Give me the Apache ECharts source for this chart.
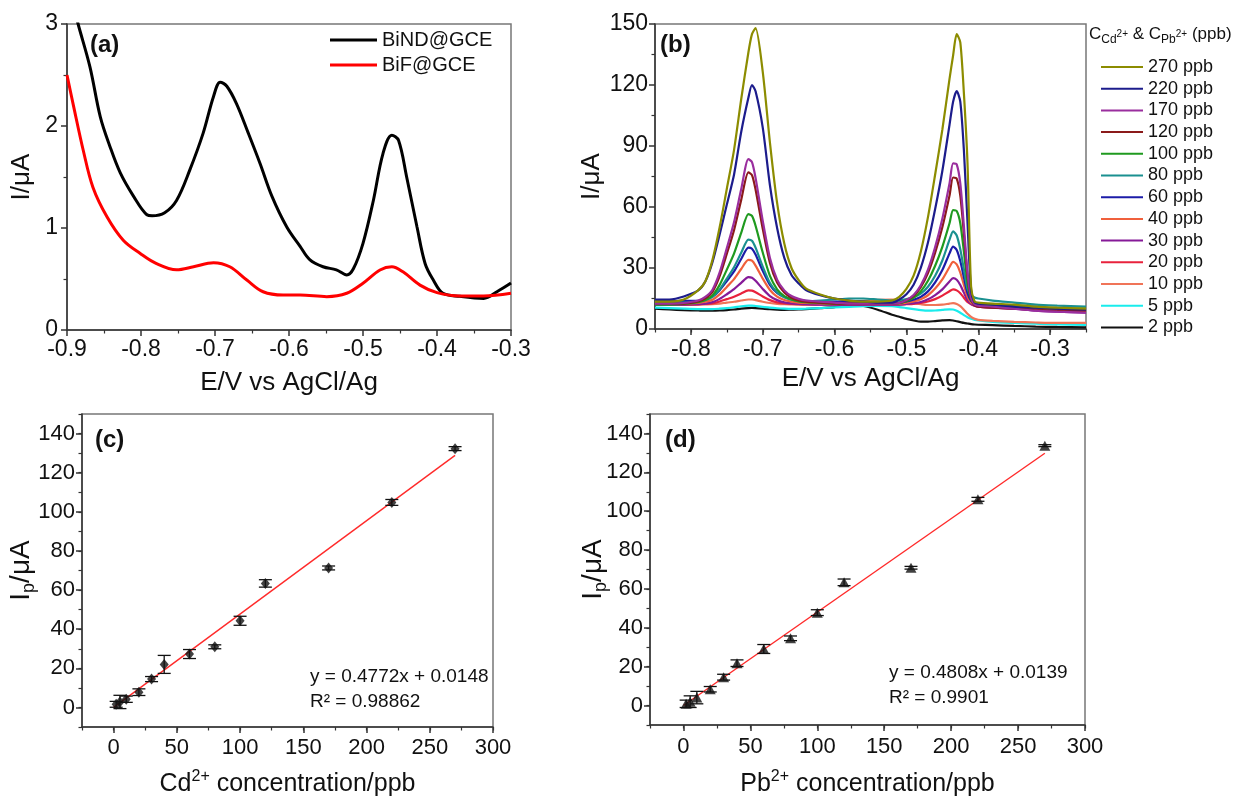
<!DOCTYPE html>
<html><head><meta charset="utf-8">
<script src="https://cdn.jsdelivr.net/npm/echarts@6/dist/echarts.min.js"></script>
<style>html,body{margin:0;padding:0;background:#fff}#chart{width:1249px;height:799px}</style>
</head><body><div id="chart"></div>
<script>
const FONT = 'Liberation Sans, Arial, Helvetica, sans-serif';

// ---------- Panel (a) ----------
const aE_BiND = [-0.892,-0.885,-0.869,-0.855,-0.842,-0.828,-0.810,-0.792,-0.785,-0.768,-0.752,-0.734,-0.716,-0.702,-0.693,-0.684,-0.671,-0.655,-0.639,-0.623,-0.603,-0.585,-0.572,-0.554,-0.536,-0.522,-0.513,-0.500,-0.486,-0.473,-0.461,-0.452,-0.441,-0.427,-0.416,-0.405,-0.392,-0.369,-0.337,-0.319,-0.300];
const aI_BiND = [3.2,3.0,2.58,2.09,1.80,1.54,1.31,1.13,1.12,1.15,1.27,1.57,1.93,2.29,2.43,2.39,2.22,1.93,1.63,1.31,1.01,0.82,0.69,0.62,0.59,0.54,0.60,0.85,1.27,1.73,1.91,1.86,1.50,1.01,0.65,0.49,0.36,0.33,0.31,0.375,0.46];
const aE_BiF = [-0.900,-0.891,-0.878,-0.865,-0.846,-0.824,-0.801,-0.779,-0.752,-0.729,-0.702,-0.680,-0.657,-0.635,-0.608,-0.585,-0.549,-0.522,-0.500,-0.477,-0.461,-0.446,-0.423,-0.400,-0.369,-0.337,-0.300];
const aI_BiF = [2.50,2.19,1.76,1.40,1.11,0.88,0.75,0.65,0.59,0.62,0.66,0.62,0.49,0.375,0.343,0.343,0.327,0.36,0.458,0.588,0.62,0.57,0.44,0.366,0.333,0.333,0.36];

// ---------- Panel (b) ----------
const bE = [-0.85,-0.83,-0.81,-0.79,-0.78,-0.77,-0.76,-0.75,-0.74,-0.73,-0.72,-0.715,-0.71,-0.70,-0.69,-0.68,-0.67,-0.66,-0.65,-0.64,-0.62,-0.60,-0.58,-0.56,-0.54,-0.52,-0.51,-0.50,-0.49,-0.48,-0.47,-0.46,-0.45,-0.44,-0.435,-0.43,-0.425,-0.42,-0.415,-0.41,-0.405,-0.40,-0.38,-0.35,-0.32,-0.29,-0.25];
const b270 = [13.5,13.5,14.5,19,23.4,34,50,69,88,113,136,145,148,126.5,91.7,62,42,30,24,20,17,15,14,13.5,13.5,14,15.8,19.7,26.2,38,55,76,98,123,134.5,145,141,116,82,21,13.5,13,12.5,12,11,10.5,10];
const b220 = [14.5,14.5,16,19,23.4,32.9,46.5,61.2,75.9,96.9,113.7,120,116.9,99,70.7,49.7,35,26.6,22.4,19.2,16.6,15,14,13.5,13,13,14.5,17.1,21.8,30.1,42.5,59,77.7,100.4,111.8,117,111.8,88,52.8,18.7,13,12.5,12,11,10.5,10,9.5];
const b170 = [12.5,12.5,12.8,14,15.8,19.3,27.8,39.8,52.5,68.7,83.5,82.1,74.3,53.2,34.9,24.3,19,16.2,14.8,14,13.4,13,12.5,12.5,12.5,12.5,12.8,14.2,16.7,21.5,29.2,40.3,54.2,71.6,81.5,81,71.6,50.7,27.8,15.3,12,11.5,11,10,9,8.5,8];
const b120 = [12.5,12.5,12.5,13.5,15.1,18.3,26,37,48.6,63.5,77,75.7,68.6,49.3,32.5,22.8,18,15.4,14.1,13.5,13,12.5,12.5,12.5,12.5,12.5,12.8,14.1,16.3,20.6,27.5,37.5,50,65.6,74.5,74,65.6,46.9,26.3,15,11.5,11,10.5,10,9.5,9,9];
const b100 = [12,12,12.3,13.2,14.3,16.5,21.7,29.2,37.1,47.3,56.5,55.6,50.8,37.6,26.1,19.5,16.2,14.5,13.6,13.2,12.8,12.5,12.5,12.5,12.5,12.5,12.7,13.7,15.3,18.5,23.7,31.1,40.4,52,58.5,58,52,38.1,22.7,14.4,12,12,11.5,11,10.5,10,10];
const b80 = [13,13,13,13.5,14.2,15.8,19.5,24.8,30.4,37.5,44,43.4,40,30.7,22.6,18,15.6,14.4,13.8,13.5,14,14.5,15,15,14.5,14,14,14.7,15.7,17.4,20.8,26.2,33.7,43.9,48,46,39.2,29.3,19.8,16.5,15.5,15,14,13,12,11.5,11];
const b60 = [14,14,13.8,13.9,14.6,15.9,19.1,23.6,28.3,34.4,40,39.5,36.6,28.6,21.7,17.7,15.8,14.7,14.2,13.9,13.6,13.5,13.5,13.5,13,13,13,13.6,14.4,15.8,18.5,22.9,29,37.2,40.5,38.9,33.4,25.4,17.7,13.8,13,12.5,12,11.5,11,10,9.5];
const b40 = [12.5,12.5,12.5,12.8,13.4,14.4,17,20.7,24.5,29.5,34,33.6,31.2,24.8,19.2,15.9,14.3,13.5,13,12.8,12.6,12.5,12.5,12.5,12.5,12.5,12.5,12.9,13.5,14.6,16.6,19.9,24.4,30.5,33,31.8,27.7,21.7,16,13,12,11.5,11,10.5,10,9.5,9];
const b30 = [12,12,12,12.2,12.5,13.2,14.8,17.1,19.6,22.7,25.5,25.2,23.7,19.7,16.2,14.2,13.1,12.6,12.3,12.2,12,12,12,12,12,12,12,12.3,12.7,13.3,14.6,16.7,19.5,23.4,25,24.2,21.6,17.9,14.2,12.4,11.5,11,10.5,10,9,8.5,8];
const b20 = [12,12,12,12.1,12.3,12.6,13.5,14.7,15.9,17.5,19,18.9,18.1,16,14.2,13.1,12.6,12.3,12.2,12.1,12,12,12,12,12,12,12,12.2,12.4,12.8,13.5,14.7,16.4,18.6,19.5,19,17.6,15.4,13.3,12.2,11.5,11,10.5,10,9.5,9,9];
const b10 = [12,12,12,12,12.1,12.2,12.5,13,13.4,14,14.5,14.5,14.2,13.4,12.8,12.4,12.2,12.1,12,12,12.3,12.8,13.3,13.8,14.3,14.5,14.2,13.6,12.8,12.2,11.8,11.8,12,12.5,12.7,12.3,11.2,9.5,7.5,6,5,4.5,4,3.5,3.2,3,3];
const b5 = [10.5,10.3,10,9.8,9.8,9.8,10,10.3,10.7,11.2,11.5,11.5,11.3,10.9,10.5,10.2,10,9.9,9.9,10,10.3,10.6,10.9,11.2,11.3,11.2,10.8,10.3,9.8,9.3,9,9.1,9.4,9.7,9.6,9,8,6.8,5.8,5,4.5,4.2,3.5,3,2.6,2.3,2];
const b2 = [10,9.6,9.3,9.1,9,9,9.1,9.3,9.6,10,10.3,10.4,10.3,10,9.7,9.5,9.4,9.5,9.6,9.8,10.3,10.8,11.8,11.3,9.5,7,6,5,4.2,3.6,3.6,3.9,4.2,4.4,4.2,3.8,3.4,3,2.7,2.4,2.2,2.1,1.9,1.5,1.2,1,0.8];
const bNames = ['270 ppb','220 ppb','170 ppb','120 ppb','100 ppb','80 ppb','60 ppb','40 ppb','30 ppb','20 ppb','10 ppb','5 ppb','2 ppb'];
const bValues = [b270,b220,b170,b120,b100,b80,b60,b40,b30,b20,b10,b5,b2];
const bColors = ['#8c8c00','#1c1c8c','#9a2e9e','#8b1a1a','#1f9a1f','#1a9090','#1c1ca8','#f0603c','#861a98','#e8223c','#f07458','#19ecec','#111111'];
const bXTicks = [-0.8,-0.7,-0.6,-0.5,-0.4,-0.3];

// ---------- Panels (c), (d) ----------
const conc = [2,5,10,20,30,40,60,80,100,120,170,220,270];
const cdIp = [1.6,2.8,4.2,7.8,14.5,22,27.3,31,44.3,63.4,71.3,104.8,132.3];
const cdErr = [1.5,3.4,1.6,1.7,1.3,4.6,2.3,1,2.3,1.9,1,1.5,1];
const pbIp = [0.9,2,4.1,8.4,14.6,21.8,29.1,34.6,47.8,63.4,70.9,106.1,133.7];
const pbErr = [1.9,3,3.2,1.4,1.5,1.7,2.3,1.2,1.5,1.7,0.7,1,0.5];
const cdFit = [[0,0.0148],[270,128.86]];
const pbFit = [[0,0.0139],[270,129.83]];
const concTicks = [0,50,100,150,200,250,300];
const ipTicks = [0,20,40,60,80,100,120,140];

// ---------- helpers ----------
const AX = '#333';
function isObj(o){return o && typeof o==='object' && !Array.isArray(o);}
function merge(a,b){const r=Object.assign({},a);for(const k in b){r[k]=(isObj(a[k])&&isObj(b[k]))?merge(a[k],b[k]):b[k];}return r;}
const baseAxis = {
  type:'value',
  axisLine:{show:true,onZero:false,lineStyle:{color:AX,width:1.5}},
  axisTick:{show:true,inside:false,length:6,lineStyle:{color:AX,width:1.5}},
  splitLine:{show:false},
  axisLabel:{fontSize:23,color:'#111',fontFamily:FONT,showMinLabel:true,showMaxLabel:true},
  nameLocation:'middle',
  nameMoveOverlap:false,
  nameTextStyle:{fontSize:26,color:'#111',fontFamily:FONT}
};
function ax(o){return merge(baseAxis,o);}
function minorAx(grid,min,max,interval,pos){
  return {type:'value',gridIndex:grid,min:min,max:max,interval:interval,position:pos,offset:0,
    axisLine:{show:false,onZero:false},axisTick:{show:true,inside:false,length:3.5,lineStyle:{color:AX,width:1.2}},
    axisLabel:{show:false},splitLine:{show:false}};
}
function zip(xs,ys){return xs.map((x,i)=>[x,ys[i]]);}
function errItem(params, api){
  const x=api.value(0), y=api.value(1), e=api.value(2);
  const p1=api.coord([x,y+e]), p2=api.coord([x,y-e]);
  const hw=6.5, st={stroke:'#111',lineWidth:1.3};
  return {type:'group',children:[
    {type:'line',shape:{x1:p1[0],y1:p1[1],x2:p2[0],y2:p2[1]},style:st},
    {type:'line',shape:{x1:p1[0]-hw,y1:p1[1],x2:p1[0]+hw,y2:p1[1]},style:st},
    {type:'line',shape:{x1:p2[0]-hw,y1:p2[1],x2:p2[0]+hw,y2:p2[1]},style:st}]};
}
const gridBase = {show:true,borderColor:'#777',borderWidth:1.5,backgroundColor:'transparent',containLabel:false,outerBoundsMode:'none'};

const fmt1 = v => (Math.round(v*10)/10).toFixed(1);

const series = [];
// (a)
series.push({name:'BiND@GCE',type:'line',xAxisIndex:0,yAxisIndex:0,data:zip(aE_BiND,aI_BiND),smooth:0.35,symbol:'none',lineStyle:{color:'#000',width:3},itemStyle:{color:'#000'}});
series.push({name:'BiF@GCE',type:'line',xAxisIndex:0,yAxisIndex:0,data:zip(aE_BiF,aI_BiF),smooth:0.35,symbol:'none',lineStyle:{color:'#ff0000',width:3},itemStyle:{color:'#ff0000'}});
// (b) drawn from lowest to highest
for(let i=bNames.length-1;i>=0;i--){
  series.push({name:bNames[i],type:'line',xAxisIndex:1,yAxisIndex:1,data:zip(bE,bValues[i]),smooth:0.25,symbol:'none',
    lineStyle:{color:bColors[i],width:2.2},itemStyle:{color:bColors[i]}});
}
// (c)
series.push({name:'cdfit',type:'line',xAxisIndex:2,yAxisIndex:2,data:cdFit,symbol:'none',lineStyle:{color:'#ff2a2a',width:1.4},z:2});
series.push({name:'cderr',type:'custom',xAxisIndex:2,yAxisIndex:2,renderItem:errItem,data:conc.map((c,i)=>[c,cdIp[i],cdErr[i]]),encode:{x:0,y:1},z:3});
series.push({name:'cdpts',type:'scatter',xAxisIndex:2,yAxisIndex:2,data:zip(conc,cdIp),symbol:'diamond',symbolSize:[9,11],itemStyle:{color:'#111'},z:4});
// (d)
series.push({name:'pbfit',type:'line',xAxisIndex:3,yAxisIndex:3,data:pbFit,symbol:'none',lineStyle:{color:'#ff2a2a',width:1.4},z:2});
series.push({name:'pberr',type:'custom',xAxisIndex:3,yAxisIndex:3,renderItem:errItem,data:conc.map((c,i)=>[c,pbIp[i],pbErr[i]]),encode:{x:0,y:1},z:3});
series.push({name:'pbpts',type:'scatter',xAxisIndex:3,yAxisIndex:3,data:zip(conc,pbIp),symbol:'triangle',symbolSize:[11,10],itemStyle:{color:'#111'},z:4});

const option = {
  animation:false,
  backgroundColor:'#fff',
  textStyle:{fontFamily:FONT},
  grid:[
    merge(gridBase,{left:67,top:24,width:444,height:306}),
    merge(gridBase,{left:655,top:24,width:431,height:305}),
    merge(gridBase,{left:82,top:414,width:411,height:313}),
    merge(gridBase,{left:650,top:414,width:435,height:311})
  ],
  xAxis:[
    ax({gridIndex:0,min:-0.9,max:-0.3,interval:0.1,minorTick:{show:true,splitNumber:2,length:3.5,lineStyle:{color:AX,width:1.2}},
      axisLabel:{margin:8,formatter:fmt1},name:'E/V vs AgCl/Ag',nameGap:40}),
    ax({gridIndex:1,min:-0.85,max:-0.25,interval:0.05,axisLabel:{margin:9,customValues:bXTicks,formatter:fmt1},axisTick:{customValues:bXTicks},
      name:'E/V vs AgCl/Ag',nameGap:37}),
    ax({gridIndex:2,min:-25,max:300,interval:25,axisLabel:{fontSize:22,margin:10,customValues:concTicks},axisTick:{customValues:concTicks},
      name:'{a|Cd}{p|2+}{a| concentration/ppb}',nameGap:42,
      nameTextStyle:{fontSize:25,rich:{a:{fontSize:25,lineHeight:30,color:'#111',fontFamily:FONT},p:{fontSize:16,lineHeight:30,verticalAlign:'top',color:'#111',fontFamily:FONT}}}}),
    ax({gridIndex:3,min:-25,max:300,interval:25,axisLabel:{fontSize:22,margin:11,customValues:concTicks},axisTick:{customValues:concTicks},
      name:'{a|Pb}{p|2+}{a| concentration/ppb}',nameGap:44,
      nameTextStyle:{fontSize:25,rich:{a:{fontSize:25,lineHeight:30,color:'#111',fontFamily:FONT},p:{fontSize:16,lineHeight:30,verticalAlign:'top',color:'#111',fontFamily:FONT}}}}),
    minorAx(1,-0.85,-0.25,0.05,'bottom'),
    minorAx(2,-25,300,25,'bottom'),
    minorAx(3,-25,300,25,'bottom')
  ],
  yAxis:[
    ax({gridIndex:0,min:0,max:3,interval:1,minorTick:{show:true,splitNumber:2,length:3.5,lineStyle:{color:AX,width:1.2}},
      axisLabel:{margin:9},name:'I/μA',nameGap:32}),
    ax({gridIndex:1,min:0,max:150,interval:30,minorTick:{show:true,splitNumber:2,length:3.5,lineStyle:{color:AX,width:1.2}},
      axisLabel:{margin:7},name:'I/μA',nameGap:50}),
    ax({gridIndex:2,min:-10,max:150,interval:10,axisLabel:{fontSize:22,margin:7,customValues:ipTicks},axisTick:{customValues:ipTicks},
      name:'{a|I}{s|p}{a|/μA}',nameGap:44,
      nameTextStyle:{fontSize:28,rich:{a:{fontSize:28,lineHeight:34,color:'#111',fontFamily:FONT},s:{fontSize:18,lineHeight:34,verticalAlign:'bottom',color:'#111',fontFamily:FONT}}}}),
    ax({gridIndex:3,min:-10,max:150,interval:10,axisLabel:{fontSize:22,margin:7,customValues:ipTicks},axisTick:{customValues:ipTicks},
      name:'{a|I}{s|p}{a|/μA}',nameGap:40,
      nameTextStyle:{fontSize:28,rich:{a:{fontSize:28,lineHeight:34,color:'#111',fontFamily:FONT},s:{fontSize:18,lineHeight:34,verticalAlign:'bottom',color:'#111',fontFamily:FONT}}}}),
    minorAx(2,-10,150,10,'left'),
    minorAx(3,-10,150,10,'left')
  ],
  legend:[
    {data:['BiND@GCE','BiF@GCE'],orient:'vertical',left:325,top:25,icon:'rect',itemWidth:47,itemHeight:3,itemGap:5,selectedMode:false,
      textStyle:{fontSize:20,lineHeight:20,color:'#111',fontFamily:FONT}},
    {data:bNames,orient:'vertical',left:1096,top:53,icon:'rect',itemWidth:42,itemHeight:2,itemGap:3.7,selectedMode:false,
      textStyle:{fontSize:18,lineHeight:18,color:'#111',fontFamily:FONT}}
  ],
  graphic:[
    {type:'text',left:90,top:33,style:{text:'(a)',font:'bold 24px '+FONT,fill:'#111'}},
    {type:'text',left:660,top:33,style:{text:'(b)',font:'bold 24px '+FONT,fill:'#111'}},
    {type:'text',left:95,top:428,style:{text:'(c)',font:'bold 24px '+FONT,fill:'#111'}},
    {type:'text',left:665,top:428,style:{text:'(d)',font:'bold 24px '+FONT,fill:'#111'}},
    {type:'text',left:1089,top:26,style:{text:'{a|C}{s|Cd}{p|2+}{a| & C}{s|Pb}{p|2+}{a| (ppb)}',fill:'#111',
      rich:{a:{fontSize:17,lineHeight:22,fontFamily:FONT,fill:'#111'},s:{fontSize:12,lineHeight:22,verticalAlign:'bottom',fontFamily:FONT,fill:'#111'},p:{fontSize:10,lineHeight:22,verticalAlign:'middle',fontFamily:FONT,fill:'#111'}}}},
    {type:'text',left:310,top:667,style:{text:'y = 0.4772x + 0.0148',font:'19px '+FONT,fill:'#111'}},
    {type:'text',left:310,top:692,style:{text:'R² = 0.98862',font:'19px '+FONT,fill:'#111'}},
    {type:'text',left:889,top:663,style:{text:'y = 0.4808x + 0.0139',font:'19px '+FONT,fill:'#111'}},
    {type:'text',left:889,top:688,style:{text:'R² = 0.9901',font:'19px '+FONT,fill:'#111'}}
  ],
  series:series
};
const chart = echarts.init(document.getElementById('chart'),null,{renderer:'canvas'});
chart.setOption(option);
</script></body></html>
